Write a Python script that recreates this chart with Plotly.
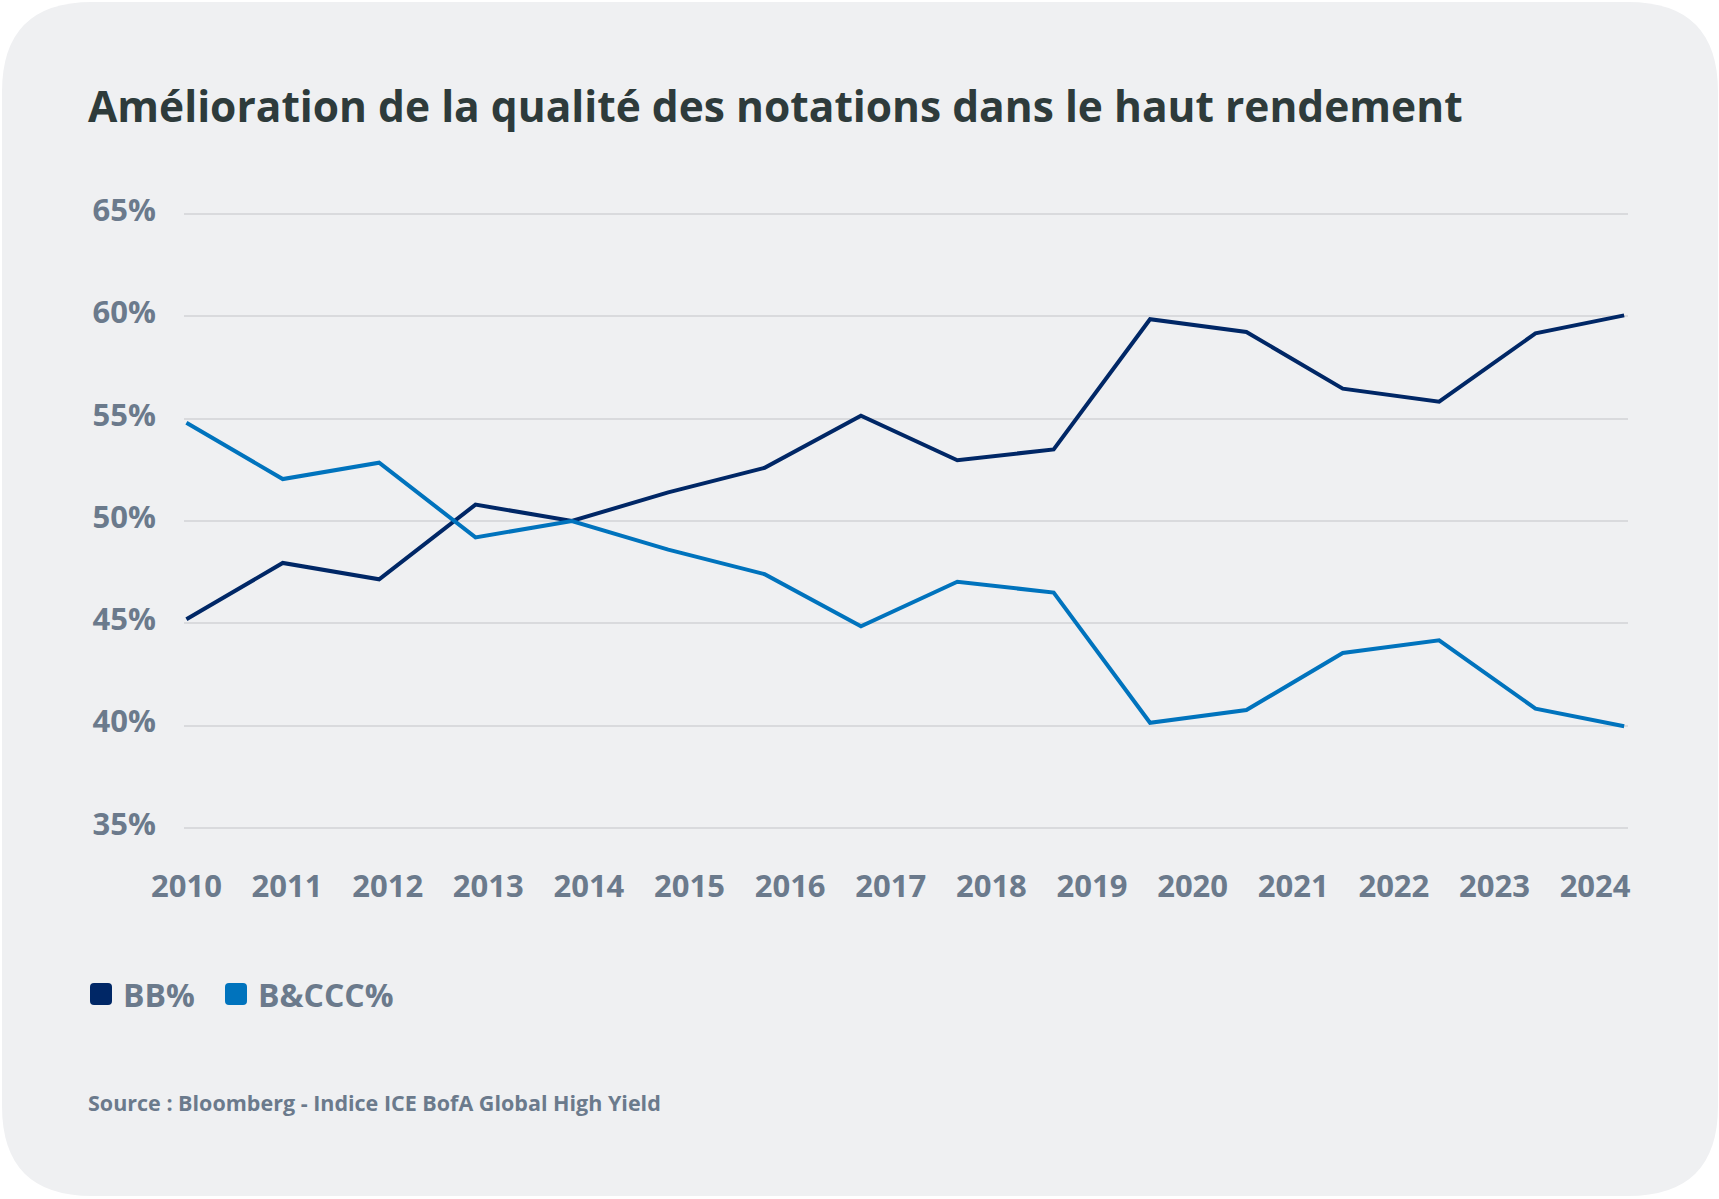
import plotly.graph_objects as go

# ---- data ----
years = ["2010", "2011", "2012", "2013", "2014", "2015", "2016", "2017",
         "2018", "2019", "2020", "2021", "2022", "2023", "2024"]
periods = [0, 1, 2, 3, 4, 5, 6, 7, 8, 9, 10, 11, 12, 13, 14, 14.92]
bb = [45.2, 47.95, 47.15, 50.8, 50.0, 51.4, 52.6, 55.15, 52.97, 53.5,
      59.86, 59.24, 56.47, 55.83, 59.17, 60.05]
bccc = [54.8, 52.05, 52.85, 49.2, 50.0, 48.6, 47.4, 44.85, 47.03, 46.5,
        40.14, 40.76, 43.55, 44.17, 40.83, 39.97]
y_ticks = [35, 40, 45, 50, 55, 60, 65]
y_labels = [f"{v}%" for v in y_ticks]
series_names = ["BB%", "B&CCC%"]

# ---- style ----
W, H = 1719, 1199
L, R, T, B = 184, 91, 210, 367
PW, PH = W - L - R, H - T - B
BG = "#eff0f2"
NAVY = "#002766"
BLUE = "#0073bd"
GREY = "#6b7a8c"
TITLE_C = "#2e3b3b"
FONT = "Open Sans"


def px(x):
    return (x - L) / PW


def py(y):
    return 1 - (y - T) / PH


def rounded_rect(x0, y0, x1, y1, r):
    return (f"M {px(x0 + r)},{py(y0)} L {px(x1 - r)},{py(y0)} "
            f"Q {px(x1)},{py(y0)} {px(x1)},{py(y0 + r)} "
            f"L {px(x1)},{py(y1 - r)} Q {px(x1)},{py(y1)} {px(x1 - r)},{py(y1)} "
            f"L {px(x0 + r)},{py(y1)} Q {px(x0)},{py(y1)} {px(x0)},{py(y1 - r)} "
            f"L {px(x0)},{py(y0 + r)} Q {px(x0)},{py(y0)} {px(x0 + r)},{py(y0)} Z")


fig = go.Figure()
fig.add_trace(go.Scatter(x=periods, y=bb, mode="lines", name=series_names[0],
                         line=dict(color=NAVY, width=4), showlegend=False))
fig.add_trace(go.Scatter(x=periods, y=bccc, mode="lines", name=series_names[1],
                         line=dict(color=BLUE, width=4), showlegend=False))
# axis carrying year labels
fig.add_trace(go.Scatter(x=[0, 14], y=[None, None], xaxis="x2",
                         mode="lines", showlegend=False, hoverinfo="skip"))

shapes = [dict(type="path", path=rounded_rect(2, 2, 1718, 1196, 90),
               xref="paper", yref="paper", fillcolor=BG,
               line=dict(width=0), layer="below")]
annotations = [
    dict(text="Amélioration de la qualité des notations dans le haut rendement",
         x=px(86), y=py(106), xref="paper", yref="paper",
         xanchor="left", yanchor="middle", showarrow=False,
         font=dict(family=FONT, size=42.5, color=TITLE_C, weight=700)),
    dict(text="Source : Bloomberg - Indice ICE BofA Global High Yield",
         x=px(86), y=py(1102), xref="paper", yref="paper",
         xanchor="left", yanchor="middle", showarrow=False,
         font=dict(family=FONT, size=21.5, color=GREY, weight=700)),
]

# legend (rounded swatches + labels)
legend_x = [90, 225]
for name, color, lx in zip(series_names, [NAVY, BLUE], legend_x):
    shapes.append(dict(type="path", path=rounded_rect(lx, 983, lx + 22, 1005, 4),
                       xref="paper", yref="paper", fillcolor=color,
                       line=dict(width=0)))
    annotations.append(dict(text=name, x=px(lx + 31), y=py(994),
                            xref="paper", yref="paper", xanchor="left",
                            yanchor="middle", showarrow=False,
                            font=dict(family=FONT, size=32, color=GREY,
                                      weight=700)))

fig.update_layout(
    width=W, height=H,
    margin=dict(l=L, r=R, t=T, b=B),
    paper_bgcolor="white",
    plot_bgcolor="rgba(0,0,0,0)",
    shapes=shapes,
    annotations=annotations,
    showlegend=False,
    xaxis=dict(range=[-0.025, 14.96], showgrid=False, zeroline=False,
               showticklabels=False, showline=False, fixedrange=True),
    xaxis2=dict(overlaying="x", side="bottom", anchor="y",
                range=[-0.024, 14.327], tickvals=list(range(len(years))),
                ticktext=years, showgrid=False, zeroline=False,
                showline=False, ticks="", ticklabelstandoff=33,
                tickfont=dict(family=FONT, size=31, color=GREY, weight=700)),
    yaxis=dict(range=[34.8, 65.2], tickvals=y_ticks, ticktext=y_labels,
               showgrid=True, gridcolor="#d9dadd", gridwidth=1.5,
               zeroline=False, showline=False, ticks="",
               ticklabelstandoff=27, ticklabelshift=-4,
               tickfont=dict(family=FONT, size=31, color=GREY, weight=700)),
    hovermode=False,
)

fig.write_html("out.html", config={"displayModeBar": False},
               post_script="document.body.style.margin='0';")
